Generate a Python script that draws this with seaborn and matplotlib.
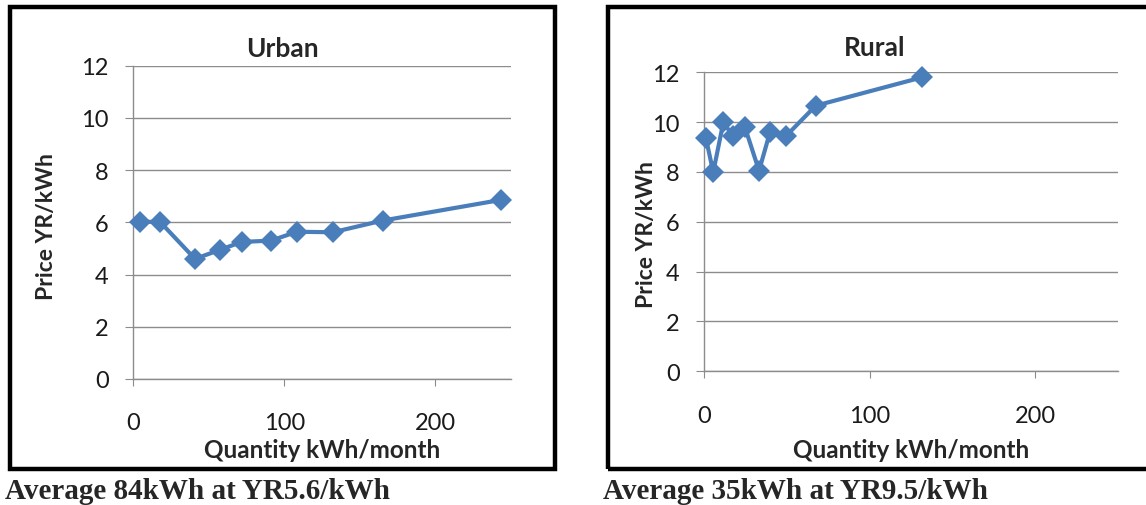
import matplotlib
matplotlib.use("Agg")
import matplotlib.pyplot as plt
from matplotlib.patches import Rectangle
import seaborn as sns

# Monthly electricity consumption (kWh/month) against the average price paid (YR/kWh)
urban_qty = [4.4, 17.7, 40.9, 57.5, 71.8, 91.3, 108.4, 132.2, 165.4, 243.7]
urban_price = [6.02, 6.02, 4.60, 4.95, 5.25, 5.30, 5.64, 5.62, 6.07, 6.86]

rural_qty = [1.0, 5.4, 11.5, 17.5, 24.6, 33.1, 39.7, 49.2, 67.4, 131.8]
rural_price = [9.35, 7.99, 9.99, 9.43, 9.79, 8.05, 9.59, 9.43, 10.66, 11.80]

x_ticks = [0, 100, 200]
y_ticks = [0, 2, 4, 6, 8, 10, 12]

titles = ["Urban", "Rural"]
x_label = "Quantity kWh/month"
y_label = "Price YR/kWh"
captions = ["Average 84kWh at YR5.6/kWh", "Average 35kWh at YR9.5/kWh"]

sns.set_theme(style="white")
plt.rcParams["font.family"] = ["Lato", "DejaVu Sans"]

W, H = 1146, 506
fig = plt.figure(figsize=(W / 100, H / 100), dpi=100)
fig.patch.set_facecolor("white")

LINE = "#4A7EBB"
GRID = "#8C8C8C"


def px_box(left, top, right, bottom):
    return [left / W, 1 - bottom / H, (right - left) / W, (bottom - top) / H]


ax_u = fig.add_axes(px_box(133.3, 66.7, 510.5, 380.0))
ax_r = fig.add_axes(px_box(704.3, 73.3, 1117.7, 372.3))

panels = [
    (ax_u, urban_qty, urban_price, (-0.231, 0.49), -0.188),
    (ax_r, rural_qty, rural_price, (-0.139, 0.46), -0.222),
]

for ax, qty, price, ylab_pos, xlab_y in panels:
    sns.lineplot(x=qty, y=price, ax=ax, color=LINE, linewidth=3.0,
                 marker="D", markersize=11, markeredgewidth=0,
                 markerfacecolor=LINE, clip_on=False, zorder=5)
    ax.set_xlim(0, 250)
    ax.set_ylim(0, 12)
    ax.set_xticks(x_ticks)
    ax.set_yticks(y_ticks)
    ax.yaxis.grid(True, color=GRID, linewidth=1.0)
    ax.xaxis.grid(False)
    for side in ("top", "right"):
        ax.spines[side].set_visible(False)
    for side in ("left", "bottom"):
        ax.spines[side].set_color(GRID)
        ax.spines[side].set_linewidth(1.0)
    ax.tick_params(axis="x", direction="out", length=5, width=0.8,
                   color=GRID, pad=19, labelsize=17, labelcolor="#1a1a1a",
                   bottom=True)
    ax.tick_params(axis="y", direction="out", length=5.8, width=0.8,
                   color=GRID, pad=12, labelsize=17, labelcolor="#1a1a1a",
                   left=True)
    ax.set_ylabel(y_label, fontsize=16.5, fontweight="bold", va="center")
    ax.yaxis.set_label_coords(*ylab_pos)
    ax.set_xlabel(x_label, fontsize=17.5, fontweight="bold", va="top")
    ax.xaxis.set_label_coords(0.5, xlab_y)
    ax.set_facecolor("white")

# Chart titles
fig.text(282.5 / W, 1 - 56.7 / H, titles[0], ha="center", va="baseline",
         fontsize=19, fontweight="bold")
fig.text(875 / W, 1 - 56.0 / H, titles[1], ha="center", va="baseline",
         fontsize=19, fontweight="bold")

# Black chart frames
frame_kw = dict(fill=False, edgecolor="black", linewidth=3.2,
                transform=fig.transFigure, zorder=10)
fig.add_artist(Rectangle((9.5 / W, 1 - 470 / H), (555 - 9.5) / W,
                         (470 - 7.5) / H, **frame_kw))
fig.add_artist(Rectangle((608 / W, 1 - 470 / H), (1160 - 608) / W,
                         (470 - 7.5) / H, **frame_kw))

# Captions under each chart
for x0, text in zip([5, 603], captions):
    fig.text(x0 / W, 1 - 499 / H, text, ha="left", va="baseline",
             fontsize=21, fontweight="bold", family="Liberation Serif")

fig.savefig("out.png", dpi=100)
